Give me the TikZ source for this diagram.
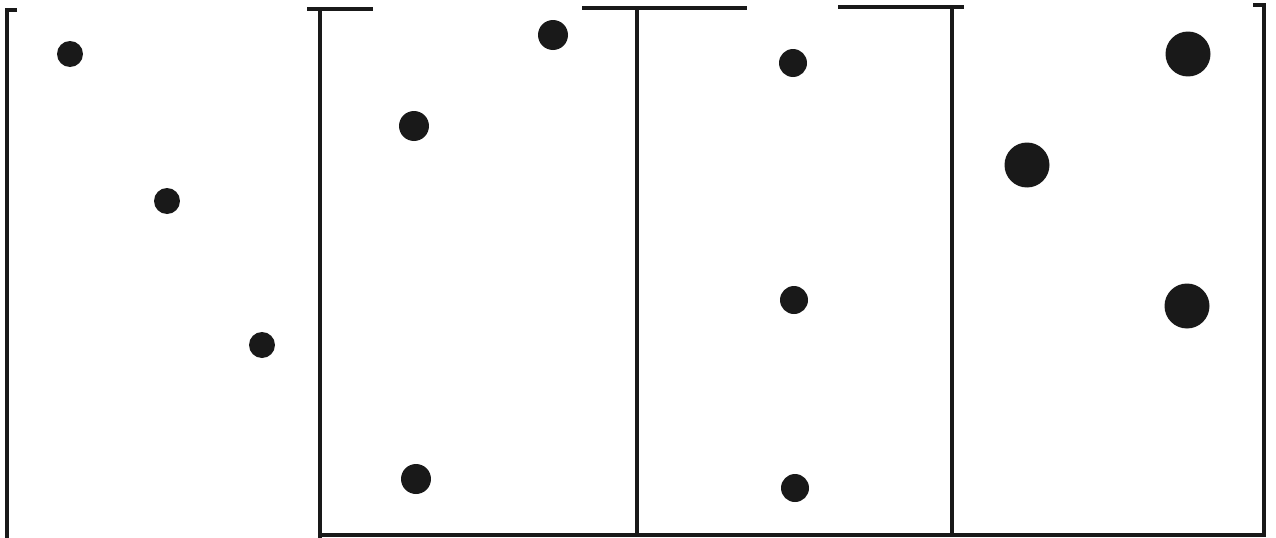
\documentclass[tikz,border=0pt]{standalone}
\usepackage{tikz}
\usetikzlibrary{positioning}
\tikzset{
  wall/.style={line width=2.2pt, black!90},
  dot/.style={circle, fill=black!90, inner sep=0pt, minimum size=#1}
}
\begin{document}
\begin{tikzpicture}[x=0.02cm, y=-0.02cm]
  \useasboundingbox (0,0) rectangle (1276,538);

  % Pareti e divisori
  \draw[wall] (17,10) -- (7,10) -- (7,538);
  \draw[wall] (307,9) -- (373,9);
  \draw[wall] (320,9) -- (320,538);
  \draw[wall] (582,8) -- (747,8);
  \draw[wall] (637,8) -- (637,535);
  \draw[wall] (838,7) -- (964,7);
  \draw[wall] (952,7) -- (952,535);
  \draw[wall] (1253,5) -- (1264,5) -- (1264,535) -- (320,535);

  % Primo riquadro
  \node[dot=0.52cm] (a1) at (70,54) {};
  \node[dot=0.52cm] (a2) at (167,201) {};
  \node[dot=0.52cm] (a3) at (262,345) {};

  % Secondo riquadro
  \node[dot=0.6cm] (b1) at (553,35) {};
  \node[dot=0.6cm] (b2) at (414,126) {};
  \node[dot=0.6cm] (b3) at (416,479) {};

  % Terzo riquadro
  \node[dot=0.56cm] (c1) at (793,63) {};
  \node[dot=0.56cm] (c2) at (794,300) {};
  \node[dot=0.56cm] (c3) at (795,488) {};

  % Quarto riquadro
  \node[dot=0.9cm] (d1) at (1188,54) {};
  \node[dot=0.9cm] (d2) at (1027,165) {};
  \node[dot=0.9cm] (d3) at (1187,306) {};
\end{tikzpicture}
\end{document}
